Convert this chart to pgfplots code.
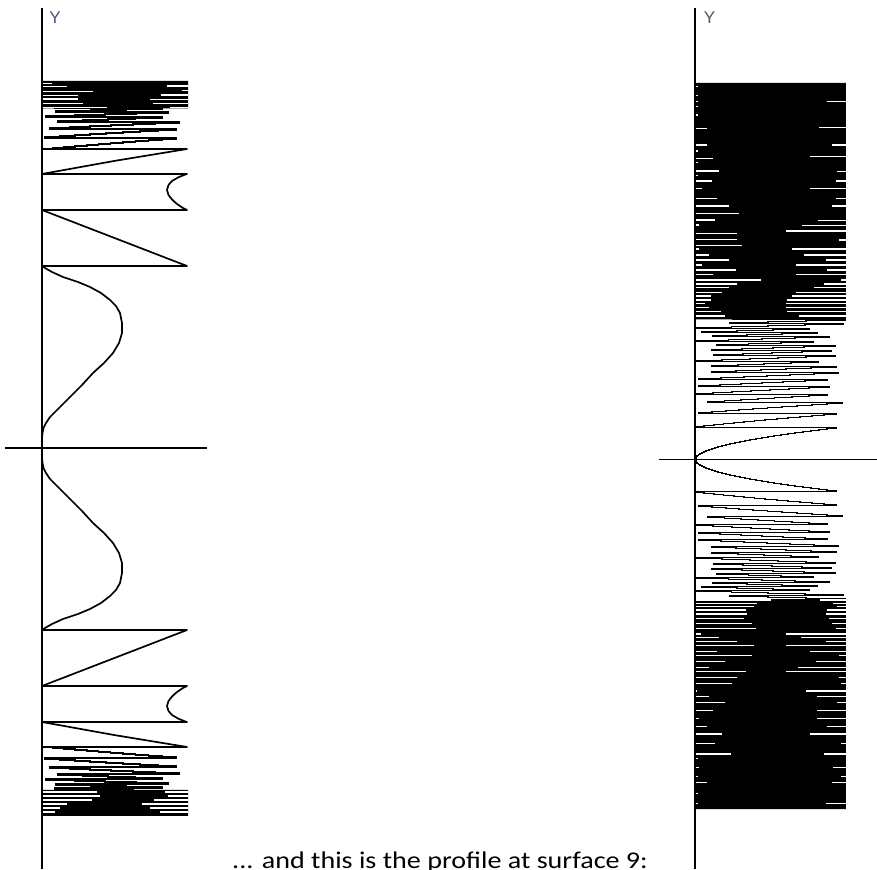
\documentclass[border=0pt]{standalone}
\usepackage{pgfplots}
\pgfplotsset{compat=1.18}
\usepackage{pgfplotstable}
\usepackage{graphicx}
\usepackage{fontspec}
\newfontfamily\carlito{Carlito}
\newfontfamily\libsans{Liberation Sans}
\definecolor{ygray}{RGB}{80,80,115}

% left profile: k = row above the axis (px), x = wrapped value (px, full width 145)
\pgfplotstableread{
k nk x
0 0 0
10 -10 0
15 -15 0.5
20 -20 1.5
25 -25 4
31 -31 8
40 -40 17
51 -51 28
63 -63 40
75 -75 51
85 -85 62
95 -95 71
105 -105 77
115 -115 80
125 -125 80
135 -135 78
142 -142 74
148 -148 68
155 -155 59
161 -161 48
166 -166 36
171 -171 21
176 -176 10
180 -180 3
182 -182 0
182 -182 145
238 -238 0
238 -238 145
240 -240 141
244 -244 135
248.5 -248.5 130
253 -253 126.5
258 -258 125
263 -263 126.5
267 -267 130
270.5 -270.5 136
273 -273 142
274 -274 145
274 -274 0
287 -287 72
299 -299 145
299 -299 0
300 -300 10.9
301 -301 21.9
302 -302 33.2
303 -303 44.7
304 -304 56.5
305 -305 68.5
306 -306 80.8
307 -307 93.5
308 -308 106.5
309 -309 119.9
310 -310 133.7
311 -311 2.9
312 -312 17.5
313 -313 32.6
314 -314 48.2
315 -315 64.3
316 -316 80.9
317 -317 98.1
318 -318 115.8
319 -319 134.2
320 -320 8.2
321 -321 27.9
322 -322 48.2
323 -323 69.2
324 -324 90.9
325 -325 113.4
326 -326 136.6
327 -327 15.7
328 -328 40.5
329 -329 66.2
330 -330 92.7
331 -331 120.1
332 -332 3.5
333 -333 32.7
334 -334 62.9
335 -335 94.1
336 -336 126.2
337 -337 14.4
338 -338 48.7
339 -339 84.0
340 -340 120.4
341 -341 12.9
342 -342 51.5
343 -343 91.3
344 -344 132.3
345 -345 29.5
346 -346 72.9
347 -347 117.6
348 -348 18.6
349 -349 65.8
350 -350 114.4
351 -351 19.3
352 -352 70.6
353 -353 123.3
354 -354 32.4
355 -355 87.9
356 -356 144.9
357 -357 58.4
358 -358 118.4
359 -359 34.9
360 -360 98.0
361 -361 17.6
362 -362 83.9
363 -363 6.8
364 -364 76.3
365 -365 2.5
366 -366 75.4
366.5 -366.5 0
366.5 -366.5 145
}\leftprofile

% right profile, readable part: r = wrapped value (full width 1089)
\pgfplotstableread{
k nk r
0 0 0
1 -1 1
2 -2 4
3 -3 9
4 -4 16
5 -5 25
6 -6 36
7 -7 49
8 -8 64
9 -9 81
10 -10 100
11 -11 121
12 -12 144
13 -13 169
14 -14 196
15 -15 225
16 -16 256
17 -17 289
18 -18 324
19 -19 361
20 -20 400
21 -21 441
22 -22 484
23 -23 529
24 -24 576
25 -25 625
26 -26 676
27 -27 729
28 -28 784
29 -29 841
30 -30 900
31 -31 961
32 -32 1024
33 -33 0
34 -34 67
35 -35 136
36 -36 207
37 -37 280
38 -38 355
39 -39 432
40 -40 511
41 -41 592
42 -42 675
43 -43 760
44 -44 847
45 -45 936
46 -46 1027
47 -47 31
48 -48 126
49 -49 223
50 -50 322
51 -51 423
52 -52 526
53 -53 631
54 -54 738
55 -55 847
56 -56 958
57 -57 1071
58 -58 97
59 -59 214
60 -60 333
61 -61 454
62 -62 577
63 -63 702
64 -64 829
65 -65 958
66 -66 0
67 -67 133
68 -68 268
69 -69 405
70 -70 544
71 -71 685
72 -72 828
73 -73 973
74 -74 31
75 -75 180
76 -76 331
77 -77 484
78 -78 639
79 -79 796
80 -80 955
81 -81 27
82 -82 190
83 -83 355
84 -84 522
85 -85 691
86 -86 862
87 -87 1035
88 -88 121
89 -89 298
90 -90 477
91 -91 658
92 -92 841
93 -93 1026
94 -94 124
95 -95 313
96 -96 504
97 -97 697
98 -98 892
99 -99 0
100 -100 199
101 -101 400
102 -102 603
103 -103 808
104 -104 1015
105 -105 135
106 -106 346
107 -107 559
108 -108 774
109 -109 991
110 -110 121
111 -111 342
112 -112 565
113 -113 790
114 -114 1017
115 -115 157
116 -116 388
117 -117 621
118 -118 856
119 -119 4
120 -120 243
121 -121 484
122 -122 727
123 -123 972
124 -124 130
125 -125 379
126 -126 630
127 -127 883
128 -128 49
129 -129 306
130 -130 565
131 -131 826
132 -132 0
133 -133 265
134 -134 532
135 -135 801
136 -136 1072
137 -137 256
138 -138 531
139 -139 808
140 -140 1087
141 -141 279
142 -142 562
}\rightprofile

\begin{document}
\begin{tikzpicture}[x=1pt,y=1pt]
\useasboundingbox (0,0) rectangle (877,869);
\clip (0,0) rectangle (877,869);

% ---------- left profile ----------
\begin{axis}[at={(5pt,0pt)}, anchor=south west, x=1pt, y=1pt,
  xmin=-37, xmax=165, ymin=-421, ymax=440, hide axis, clip=false]
% smooth, slowly wrapping part
\addplot[black, line width=1.7pt, line join=round, no marks, skip coords between index={42}{1000}] table[x=x, y=k] {\leftprofile};
\addplot[black, line width=1.7pt, line join=round, no marks, skip coords between index={42}{1000}] table[x=x, y=nk] {\leftprofile};
% fast wrapping part, drawn row by row
\addplot[black, line width=1.9pt, const plot, no marks, skip coords between index={0}{40}] table[x=x, y=k] {\leftprofile};
\addplot[black, line width=1.9pt, const plot, no marks, skip coords between index={0}{40}] table[x=x, y=nk] {\leftprofile};
% densely wrapped ends
\addplot[fill=black, draw=none, no marks] coordinates {(0,339.5) (146,339.5) (146,367.2) (0,367.2) (0,339.5)};
\addplot[fill=black, draw=none, no marks] coordinates {(0,-342) (146,-342) (146,-367.8) (0,-367.8) (0,-342)};
\addplot[white, line width=1.4pt, xcomb, no marks] coordinates {
(10,364.3) (24.7,361.3) (51.3,356.3) (36.3,352.3) (36.3,349) (41.3,344.7) (64.7,340.7)
(55,-344) (58,-348) (50,-352) (25,-356) (18,-360) (13,-364)
};
\addplot[white, line width=1.4pt, unbounded coords=jump, no marks] coordinates {
(124.7,362) (146,362) (nan,nan) (139.7,357.3) (146,357.3) (nan,nan)
(119,353) (146,353) (nan,nan) (108,348.7) (146,348.7) (nan,nan)
(111.3,344.7) (146,344.7) (nan,nan) (128,340.7) (146,340.7) (nan,nan)
(123,-344) (146,-344) (nan,nan) (126,-348) (146,-348) (nan,nan)
(112,-352) (146,-352) (nan,nan) (100,-356) (146,-356) (nan,nan)
(108,-360) (146,-360) (nan,nan) (118,-364) (146,-364)
};
\draw[black, line width=1.2pt] (axis cs:0,-421) -- (axis cs:0,440);
\draw[black, line width=1.2pt] (axis cs:-37,0) -- (axis cs:165,0);
\end{axis}

% ---------- right profile ----------
\begin{axis}[at={(659pt,0pt)}, anchor=south west, x=0.137741pt, y=1pt,
  xmin=-261.4, xmax=1321.3, ymin=-409.5, ymax=451.5, hide axis, clip=false]
\addplot[black, line width=1.9pt, const plot, no marks] table[x=r, y=k] {\rightprofile};
\addplot[black, line width=1.9pt, const plot, no marks] table[x=r, y=nk] {\rightprofile};
% dense, fully wrapped parts
\addplot[fill=black, draw=none, no marks] coordinates {(0,140) (1096,140) (1096,376.5) (0,376.5) (0,140)};
\addplot[fill=black, draw=none, no marks] coordinates {(0,-140) (1096,-140) (1096,-349.5) (0,-349.5) (0,-140)};
% white gaps at the left edge
\addplot[white, line width=1.3pt, xcomb, no marks] coordinates {
(22,372.8) (22,363.8) (22,357.8) (22,352.8) (22,344.5) (87,331.2) (87,314.5) (22,308.5)
(131,301.2) (22,297.2) (174,288.5) (22,283.8) (123,278.5) (51,271.2) (160,261.2) (247,253.5)
(319,246.2) (145,239.5) (29,234.5) (305,226.2) (305,220.2) (341,213.8) (29,210.5) (102,204.5)
(247,199.5) (51,194.5) (298,189.5) (131,185.2) (479,179.5) (305,175.5) (247,171.8) (196,167.2)
(116,163.5) (116,159.5) (73,156.2) (102,152.2) (189,147.8) (218,143.5)
(552,-140.5) (450,-143.8) (428,-147) (370,-150.5) (378,-154.5) (356,-159) (414,-164)
(443,-169) (44,-174.5) (174,-177.8) (305,-182.2) (428,-186.2) (160,-192.2) (414,-196.2) (218,-202.2)
(102,-207.8) (370,-212.2) (305,-217.8) (269,-223.8) (15,-231.5) (102,-237.2) (218,-243.2) (131,-251.2)
(29,-258.8) (87,-267.2) (196,-274.5) (145,-283.8) (261,-294.5) (22,-298.8) (29,-307.8) (22,-317.2)
(87,-323.2) (22,-333.8) (22,-343.8)
};
% white gaps at the right edge
\addplot[white, line width=1.3pt, unbounded coords=jump, no marks] coordinates {
(958,357.8) (1100,357.8) (nan,nan) (900,331.8) (1100,331.8) (nan,nan)
(995,314.5) (1100,314.5) (nan,nan) (835,302.8) (1100,302.8) (nan,nan)
(1031,287.8) (1100,287.8) (nan,nan) (1024,278.5) (1100,278.5) (nan,nan)
(835,271.2) (1100,271.2) (nan,nan) (1024,261.2) (1100,261.2) (nan,nan)
(995,253.5) (1100,253.5) (nan,nan) (893,238.8) (1100,238.8) (nan,nan)
(777,233.8) (1100,233.8) (nan,nan) (661,228.5) (1100,228.5) (nan,nan)
(1045,219.5) (1100,219.5) (nan,nan) (704,210.5) (1100,210.5) (nan,nan)
(791,204.5) (1100,204.5) (nan,nan) (951,199.5) (1100,199.5) (nan,nan)
(733,194.5) (1100,194.5) (nan,nan) (958,189.5) (1100,189.5) (nan,nan)
(733,185.2) (1100,185.2) (nan,nan) (1060,179.5) (1100,179.5) (nan,nan)
(937,175.5) (1100,175.5) (nan,nan) (864,171.8) (1100,171.8) (nan,nan)
(733,167.2) (1100,167.2) (nan,nan) (704,163.5) (1100,163.5) (nan,nan)
(668,159.5) (1100,159.5) (nan,nan) (661,156.2) (1100,156.2) (nan,nan)
(661,152.2) (1100,152.2) (nan,nan) (668,147.8) (1100,147.8) (nan,nan)
(755,143.5) (1100,143.5) (nan,nan)
(908,-140.5) (1100,-140.5) (nan,nan)
(1002,-143.8) (1100,-143.8) (nan,nan) (1031,-147) (1100,-147) (nan,nan)
(958,-150.5) (1100,-150.5) (nan,nan) (951,-154.5) (1100,-154.5) (nan,nan)
(973,-159) (1100,-159) (nan,nan) (995,-164) (1100,-164) (nan,nan)
(1024,-169) (1100,-169) (nan,nan) (661,-174.5) (1100,-174.5) (nan,nan)
(770,-177.8) (1100,-177.8) (nan,nan) (951,-182.2) (1100,-182.2) (nan,nan)
(661,-186.2) (1100,-186.2) (nan,nan) (835,-192.2) (1100,-192.2) (nan,nan)
(1045,-196.2) (1100,-196.2) (nan,nan) (878,-202.2) (1100,-202.2) (nan,nan)
(748,-207.8) (1100,-207.8) (nan,nan) (661,-212.2) (1100,-212.2) (nan,nan)
(1045,-217.8) (1100,-217.8) (nan,nan) (1060,-223.8) (1100,-223.8) (nan,nan)
(806,-231.5) (1100,-231.5) (nan,nan) (886,-237.2) (1100,-237.2) (nan,nan)
(1031,-243.2) (1100,-243.2) (nan,nan) (886,-251.2) (1100,-251.2) (nan,nan)
(886,-258.8) (1100,-258.8) (nan,nan) (958,-267.2) (1100,-267.2) (nan,nan)
(835,-274.5) (1100,-274.5) (nan,nan) (1060,-283.8) (1100,-283.8) (nan,nan)
(937,-294.5) (1100,-294.5) (nan,nan) (1002,-307.8) (1100,-307.8) (nan,nan)
(1060,-317.2) (1100,-317.2) (nan,nan) (995,-323.2) (1100,-323.2) (nan,nan)
(951,-343.8) (1100,-343.8)
};
\draw[black, line width=1.2pt] (axis cs:0,-409.5) -- (axis cs:0,451.5);
\draw[black, line width=1.2pt] (axis cs:-261.4,0) -- (axis cs:1321.3,0);
\end{axis}

% axis names and caption text
\node[inner sep=0, text=ygray, font=\libsans\fontsize{17}{17}\selectfont] at (55,851) {Y};
\node[inner sep=0, text=ygray, font=\libsans\fontsize{17}{17}\selectfont] at (709.5,851.5) {Y};
\node[anchor=base west, inner sep=0] at (232,0.5) {\scalebox{1.17}[1]{\carlito\fontsize{24}{26}\selectfont ... and this is the profile at surface 9:}};
\end{tikzpicture}
\end{document}
